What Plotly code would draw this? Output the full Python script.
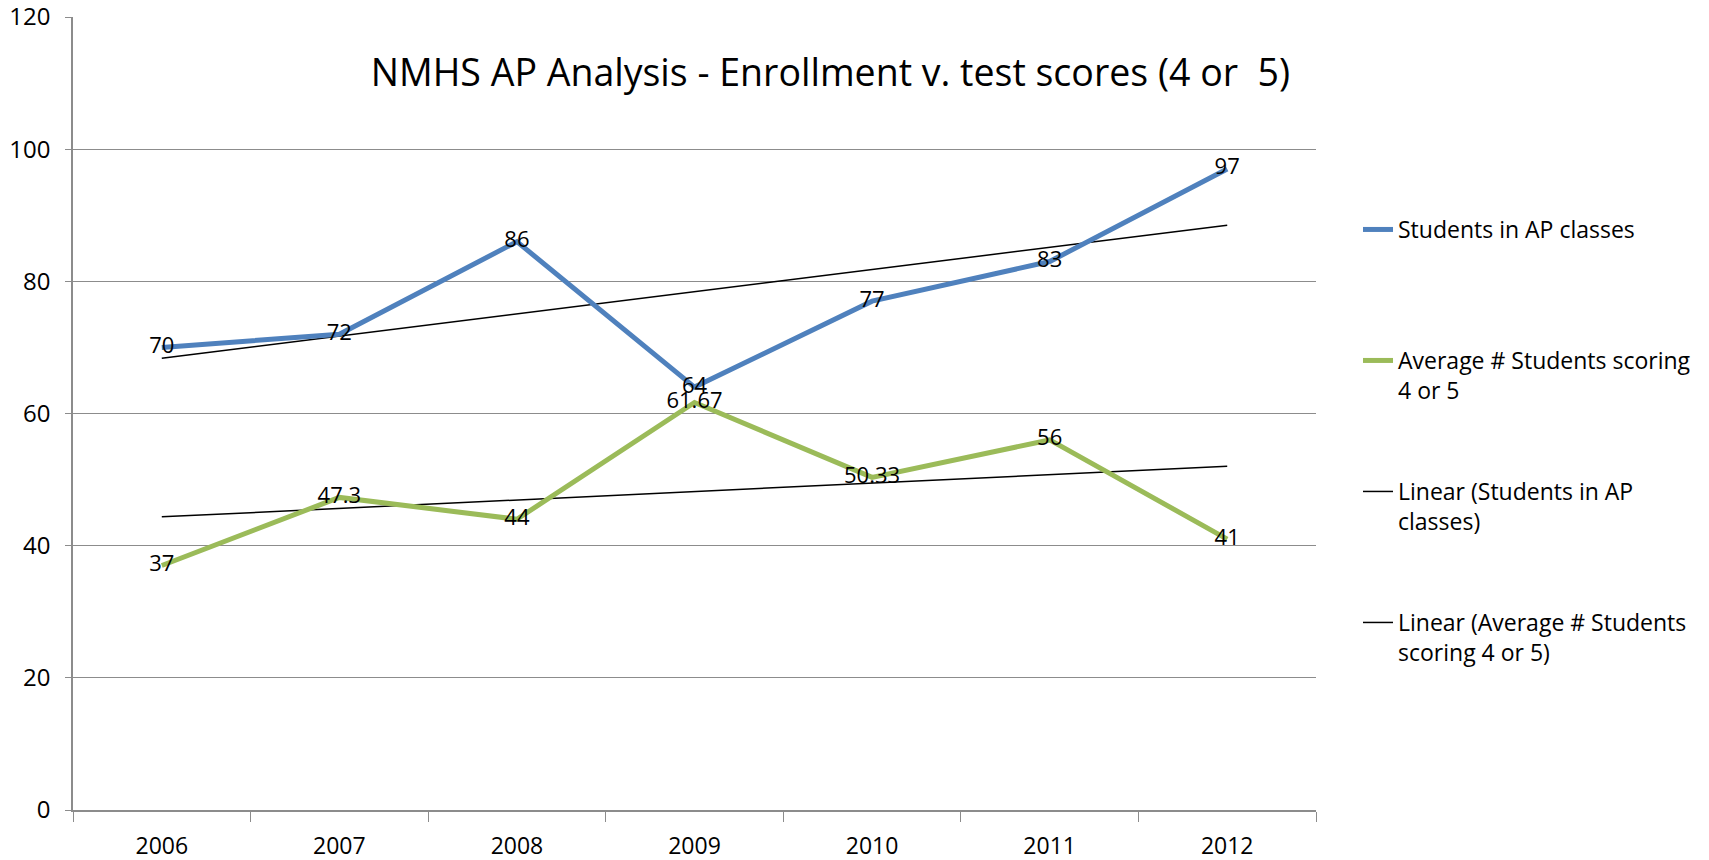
import numpy as np
import plotly.graph_objects as go

years = ["2006", "2007", "2008", "2009", "2010", "2011", "2012"]
students_ap = [70, 72, 86, 64, 77, 83, 97]
avg_scoring = [37, 47.3, 44, 61.67, 50.33, 56, 41]
ap_labels = ["70", "72", "86", "64", "77", "83", "97"]
avg_labels = ["37", "47.3", "44", "61.67", "50.33", "56", "41"]

names = [
    "Students in AP classes",
    "Average # Students scoring<br>4 or 5",
    "Linear (Students in AP<br>classes)",
    "Linear (Average # Students<br>scoring 4 or 5)",
]

FONT = "Open Sans"
BLUE = "#4F81BD"
GREEN = "#9BBB59"
GRID = "#8C8C8C"

idx = np.arange(1, len(years) + 1)
fit_ap = np.polyval(np.polyfit(idx, students_ap, 1), idx)
fit_avg = np.polyval(np.polyfit(idx, avg_scoring, 1), idx)

fig = go.Figure()
fig.add_trace(go.Scatter(x=years, y=fit_ap, mode="lines", name=names[2],
                         line=dict(color="black", width=1.5), legend="legend3"))
fig.add_trace(go.Scatter(x=years, y=fit_avg, mode="lines", name=names[3],
                         line=dict(color="black", width=1.5), legend="legend4"))
fig.add_trace(go.Scatter(x=years, y=students_ap, mode="lines+text", name=names[0],
                         text=ap_labels, textposition="middle center",
                         textfont=dict(family=FONT, size=22, color="black"),
                         line=dict(color=BLUE, width=5), legend="legend"))
fig.add_trace(go.Scatter(x=years, y=avg_scoring, mode="lines+text", name=names[1],
                         text=avg_labels, textposition="middle center",
                         textfont=dict(family=FONT, size=22, color="black"),
                         line=dict(color=GREEN, width=5), legend="legend2"))

# page has an 8px body margin; figure extends to the window's right/bottom edge
OFF = 8
W, H = 1709 - OFF, 860 - OFF
# plot area in page pixels
L, R, T, B = 73 - OFF, 1316 - OFF, 17 - OFF, 810 - OFF
pw, ph = R - L, B - T

def px(x_page):
    return (x_page - OFF - L) / pw

def py(y_page):
    return (B - (y_page - OFF)) / ph

leg_common = dict(xanchor="left", yanchor="top", valign="top",
                  bgcolor="rgba(0,0,0,0)", borderwidth=0,
                  font=dict(family=FONT, size=23, color="black"))
leg_tops = [208, 339, 470, 601]
lx = px(1358)

fig.update_layout(
    width=W, height=H,
    margin=dict(l=L, r=W - R, t=T, b=H - B, autoexpand=False),
    plot_bgcolor="white", paper_bgcolor="white",
    font=dict(family=FONT, color="black"),
    title=dict(text="NMHS AP Analysis - Enrollment v. test scores (4 or  5)",
               font=dict(family=FONT, size=37.5, color="black"),
               xref="paper", x=px(1290), xanchor="right",
               yref="container", y=1 - 65 / H, yanchor="middle"),
    legend=dict(x=lx, y=py(leg_tops[0]), **leg_common),
    legend2=dict(x=lx, y=py(leg_tops[1]), **leg_common),
    legend3=dict(x=lx, y=py(leg_tops[2]), **leg_common),
    legend4=dict(x=lx, y=py(leg_tops[3]), **leg_common),
    xaxis=dict(type="category", range=[-0.5, len(years) - 0.5],
               showgrid=False, showline=True, linecolor=GRID,
               linewidth=2, ticks="outside", tickson="boundaries", ticklen=10,
               tickcolor=GRID, tickfont=dict(family=FONT, size=23, color="black"),
               ticklabelstandoff=14, zeroline=False, fixedrange=True,
               automargin=False, ticklabeloverflow="allow"),
    yaxis=dict(range=[0, 120], dtick=20, showgrid=True, gridcolor=GRID, gridwidth=1,
               showline=True, linecolor=GRID, linewidth=1.5, ticks="outside",
               ticklen=6, tickcolor=GRID,
               tickfont=dict(family=FONT, size=24, color="black"),
               ticklabelstandoff=10, zeroline=False, fixedrange=True,
               automargin=False, ticklabeloverflow="allow"),
    showlegend=True,
)

fig.write_html("out.html")
